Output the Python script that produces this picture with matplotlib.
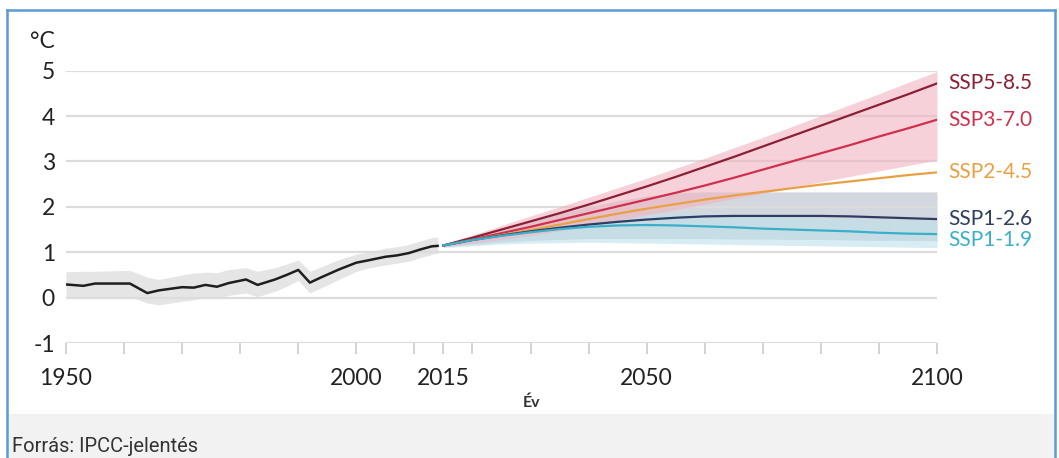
import numpy as np
import matplotlib
matplotlib.use('Agg')
import matplotlib.pyplot as plt
from matplotlib.patches import Rectangle
from matplotlib.lines import Line2D

plt.rcParams['font.family'] = ['Lato', 'DejaVu Sans']

# observed warming 1950-2014 with its uncertainty band
hist_years = [1950, 1953, 1955, 1961, 1964, 1966, 1970, 1972, 1974, 1976, 1978,
              1981, 1983, 1986, 1988, 1990, 1992, 1994, 1997, 2000, 2002, 2005,
              2007, 2009, 2011, 2013, 2014]
hist_mean = [0.29, 0.26, 0.31, 0.31, 0.10, 0.16, 0.23, 0.22, 0.28, 0.24, 0.32,
             0.40, 0.28, 0.40, 0.50, 0.61, 0.33, 0.45, 0.62, 0.77, 0.82, 0.90,
             0.93, 0.98, 1.06, 1.13, 1.14]
hist_hi = [0.57, 0.58, 0.58, 0.60, 0.45, 0.40, 0.50, 0.54, 0.56, 0.55, 0.62,
           0.66, 0.58, 0.66, 0.74, 0.83, 0.58, 0.68, 0.84, 0.96, 1.00, 1.09,
           1.12, 1.17, 1.25, 1.32, 1.34]
hist_lo = [0.02, 0.00, 0.02, 0.02, -0.12, -0.16, -0.08, -0.05, 0.00, -0.02, 0.05,
           0.10, 0.02, 0.14, 0.25, 0.38, 0.10, 0.22, 0.40, 0.58, 0.65, 0.72,
           0.76, 0.80, 0.88, 0.95, 0.98]

# scenario projections, every 5 years
proj_years = [2015, 2020, 2025, 2030, 2035, 2040, 2045, 2050, 2055, 2060,
              2065, 2070, 2075, 2080, 2085, 2090, 2095, 2100]
ssp585 = [1.15, 1.32, 1.50, 1.68, 1.86, 2.05, 2.25, 2.45, 2.66, 2.88,
          3.10, 3.33, 3.56, 3.79, 4.02, 4.25, 4.48, 4.72]
ssp370 = [1.15, 1.28, 1.42, 1.56, 1.71, 1.86, 2.01, 2.16, 2.31, 2.47,
          2.64, 2.82, 3.00, 3.18, 3.36, 3.55, 3.73, 3.92]
ssp245 = [1.15, 1.27, 1.38, 1.49, 1.61, 1.73, 1.85, 1.96, 2.06, 2.16,
          2.25, 2.33, 2.41, 2.49, 2.56, 2.63, 2.70, 2.76]
ssp126 = [1.15, 1.27, 1.37, 1.46, 1.54, 1.61, 1.67, 1.72, 1.76, 1.79,
          1.80, 1.80, 1.80, 1.80, 1.79, 1.77, 1.75, 1.73]
ssp119 = [1.15, 1.27, 1.36, 1.44, 1.51, 1.56, 1.59, 1.60, 1.59, 1.57,
          1.55, 1.52, 1.50, 1.48, 1.46, 1.43, 1.41, 1.40]

high_lo = [1.12, 1.20, 1.28, 1.37, 1.47, 1.58, 1.70, 1.82, 1.94, 2.06,
           2.18, 2.30, 2.42, 2.55, 2.67, 2.79, 2.91, 3.03]
high_hi = [1.18, 1.38, 1.59, 1.80, 2.00, 2.21, 2.42, 2.63, 2.85, 3.07,
           3.30, 3.53, 3.77, 4.01, 4.25, 4.49, 4.74, 4.98]
low_lo = [1.12, 1.17, 1.22, 1.26, 1.28, 1.30, 1.30, 1.30, 1.30, 1.30,
          1.29, 1.29, 1.28, 1.28, 1.27, 1.26, 1.26, 1.25]
low_hi = [1.18, 1.33, 1.50, 1.68, 1.85, 2.00, 2.13, 2.24, 2.31, 2.33,
          2.33, 2.33, 2.33, 2.33, 2.33, 2.33, 2.33, 2.33]
vlow_lo = [1.10, 1.14, 1.18, 1.20, 1.21, 1.22, 1.21, 1.20, 1.19, 1.18,
           1.17, 1.16, 1.15, 1.14, 1.13, 1.12, 1.11, 1.10]
vlow_hi = [1.18, 1.28, 1.42, 1.55, 1.66, 1.75, 1.81, 1.85, 1.86, 1.85,
           1.83, 1.80, 1.78, 1.75, 1.74, 1.72, 1.71, 1.70]

names = ['SSP5-8.5', 'SSP3-7.0', 'SSP2-4.5', 'SSP1-2.6', 'SSP1-1.9']
series = [ssp585, ssp370, ssp245, ssp126, ssp119]
colors = ['#8c1f35', '#d0304d', '#e9a043', '#2e3d63', '#3aafca']
label_dy = [0, 0, 0, 0, -4]

xticks = [1950, 1960, 1970, 1980, 1990, 2000, 2010, 2015, 2020, 2030, 2040,
          2050, 2060, 2070, 2080, 2090, 2100]
xlabels = {1950: '1950', 2000: '2000', 2015: '2015', 2050: '2050', 2100: '2100'}

W, H = 1059, 458
fig = plt.figure(figsize=(W / 100, H / 100), dpi=100)

# grey source strip and the blue frame
fig.add_artist(Rectangle((8 / W, 0), 1046 / W, 44 / H, transform=fig.transFigure,
                         facecolor='#f2f2f2', edgecolor='none'))
frame = dict(transform=fig.transFigure, color='#5b9bd5', lw=1.8)
fig.add_artist(Line2D([7 / W, 1055 / W], [1 - 10 / H, 1 - 10 / H], **frame))
fig.add_artist(Line2D([7 / W, 7 / W], [0, 1 - 10 / H], **frame))
fig.add_artist(Line2D([1055 / W, 1055 / W], [0, 1 - 10 / H], **frame))

ax = fig.add_axes([66 / W, 1 - 343 / H, (937 - 66) / W, (343 - 70.7) / H])
ax.set_xlim(1950, 2100)
ax.set_ylim(-1, 5)
for s in ax.spines.values():
    s.set_visible(False)

ax.set_yticks(range(-1, 6))
ax.set_yticklabels([str(v) for v in range(-1, 6)])
ax.grid(axis='y', color='#dcdcdc', lw=1.6, zorder=0)
ax.tick_params(axis='y', length=0, pad=8, labelsize=16.5, labelcolor='#222222')

ax.set_xticks(xticks)
ax.set_xticklabels([xlabels.get(t, '') for t in xticks])
ax.tick_params(axis='x', length=8, width=1.3, color='#d0d0d0', pad=10,
               labelsize=16.5, labelcolor='#222222')

# historical
ax.fill_between(hist_years, hist_lo, hist_hi, color='#e5e5e5', lw=0, zorder=1)
ax.plot(hist_years, hist_mean, color='#1e1e1e', lw=1.8, zorder=3)

# projection ranges
ax.fill_between(proj_years, low_lo, low_hi, color='#d3d7df', lw=0, zorder=1)
ax.fill_between(proj_years, vlow_lo, vlow_hi, color='#bfe2ec', alpha=0.6, lw=0, zorder=1)
ax.fill_between(proj_years, high_lo, high_hi, color='#f2b3c0', alpha=0.6, lw=0, zorder=2)

for name, vals, c, dy in zip(names, series, colors, label_dy):
    ax.plot(proj_years, vals, color=c, lw=1.6, zorder=4)
    ax.annotate(name, (2100, vals[-1]), xytext=(8, dy), textcoords='offset points',
                color=c, fontsize=15, va='center', ha='left', annotation_clip=False)

fig.text(30 / W, 1 - 42 / H, '°C', fontsize=16.5, color='#222222', va='center')
fig.text(532 / W, 1 - 403 / H, 'Év', fontsize=11.5, fontweight='bold',
         color='#333333', ha='center', va='center')
fig.text(12 / W, 1 - 447 / H, 'Forrás: IPCC-jelentés', fontsize=14.5,
         family=['Roboto', 'DejaVu Sans'], color='#333333', va='center')

fig.savefig('out.png', dpi=100)
